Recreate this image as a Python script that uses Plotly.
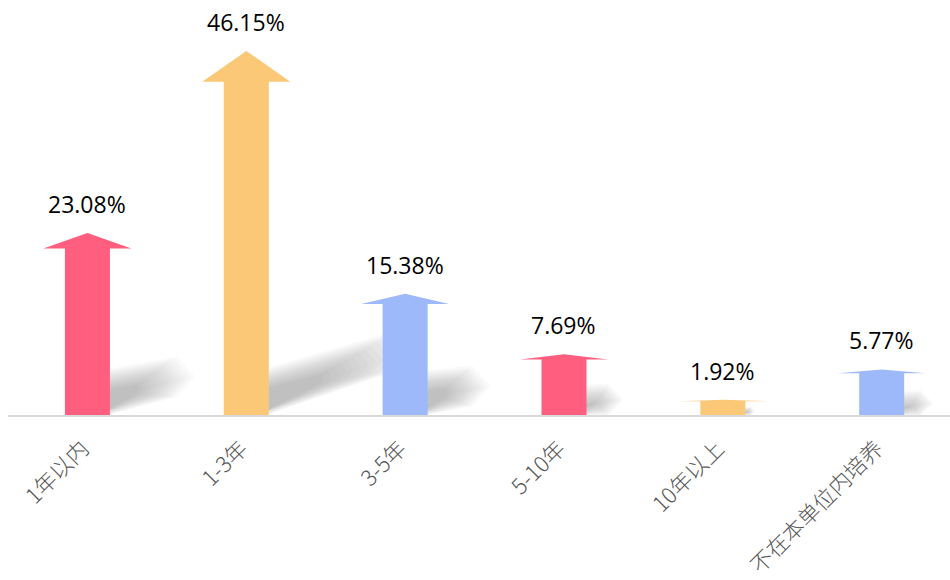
import plotly.graph_objects as go

# Years of in-house training
categories = ["1年以内", "1-3年", "3-5年", "5-10年", "10年以上", "不在本单位内培养"]
values = [23.08, 46.15, 15.38, 7.69, 1.92, 5.77]
colors = ["#FF5E7E", "#FAC876", "#9DB9F9", "#FF5E7E", "#FAC876", "#9DB9F9"]

X_RANGE = [-0.5, 5.43]
Y_RANGE = [0, 52.6]
PLOT_W = 942
PLOT_H = 415
PX_X = PLOT_W / (X_RANGE[1] - X_RANGE[0])   # pixels per category unit
PX_Y = PLOT_H / (Y_RANGE[1] - Y_RANGE[0])   # pixels per value unit

SHAFT_HALF_PX = 22.5
SHAFT_HALF = SHAFT_HALF_PX / PX_X
HEAD_HALF = 44 / PX_X
HEAD_FRAC = 0.085

fig = go.Figure()


def shadow_layers(i, v):
    """Soft floor shadow cast up and to the right of an arrow (stacked
    translucent tapered bands approximate a blur)."""
    traces = []
    length = 2.9 * v            # px length of the shadow band
    slope = 0.42                # rise per px along the floor
    h0 = min(34.0, 2.6 * v)     # band thickness next to the arrow
    h1 = h0 * 0.6               # band thickness at the far end
    x0 = SHAFT_HALF_PX
    n = 14
    for k in range(n):
        t = k / (n - 1)
        g = min(10.0, 0.6 * h0) * (1 - 2 * t)   # outer layers wider, inner narrower
        lk = length * (1.0 - 0.6 * t)           # inner layers stop short -> fading tip
        h_end = h0 + (h1 - h0) * (lk / length)
        xe = x0 + lk
        yc = slope * lk + h_end / 2
        tip = 0.4 * h_end
        pts_px = [
            (x0 - 12, 0),
            (x0 - 12, h0 + g),
            (xe, yc + h_end / 2 + g),
            (xe + tip + g, yc),
            (xe, yc - h_end / 2 - g),
            (x0 - 12 + max(g, 0), 0),
        ]
        xs = [i + px / PX_X for px, _ in pts_px]
        ys = [max(py, 0) / PX_Y for _, py in pts_px]
        xs.append(xs[0])
        ys.append(ys[0])
        traces.append(go.Scatter(
            x=xs, y=ys, mode="lines", fill="toself",
            fillcolor="rgba(100,100,100,0.033)", line=dict(width=0),
            hoverinfo="skip", showlegend=False,
        ))
    return traces


for i, v in enumerate(values):
    for tr in shadow_layers(i, v):
        fig.add_trace(tr)

for i, (v, c) in enumerate(zip(values, colors)):
    head_base = v * (1 - HEAD_FRAC)
    xs = [i - SHAFT_HALF, i - SHAFT_HALF, i - HEAD_HALF, i, i + HEAD_HALF,
          i + SHAFT_HALF, i + SHAFT_HALF, i - SHAFT_HALF]
    ys = [0, head_base, head_base, v, head_base, head_base, 0, 0]
    fig.add_trace(go.Scatter(
        x=xs, y=ys, mode="lines", fill="toself", fillcolor=c,
        line=dict(width=0), hoverinfo="skip", showlegend=False,
    ))
    fig.add_annotation(
        x=i, y=v, text=f"{v:.2f}%", showarrow=False,
        xanchor="center", yanchor="bottom", yshift=11,
        font=dict(family="Open Sans", size=23, color="#000000"),
    )

fig.update_xaxes(
    range=X_RANGE,
    tickmode="array",
    tickvals=list(range(len(categories))),
    ticktext=categories,
    tickangle=-45,
    tickfont=dict(family="Noto Sans CJK SC", size=22, color="#595959", weight=300),
    ticklabelstandoff=10,
    ticklabelshift=-5,
    showgrid=False, zeroline=False,
    showline=True, linecolor="#D9D9D9", linewidth=2,
    ticks="",
)
fig.update_yaxes(range=Y_RANGE, visible=False, showgrid=False, zeroline=False)

fig.update_layout(
    width=950, height=580,
    margin=dict(l=8, r=0, t=0, b=165),
    plot_bgcolor="#FFFFFF", paper_bgcolor="#FFFFFF",
    showlegend=False,
)

fig.write_html("out.html")
